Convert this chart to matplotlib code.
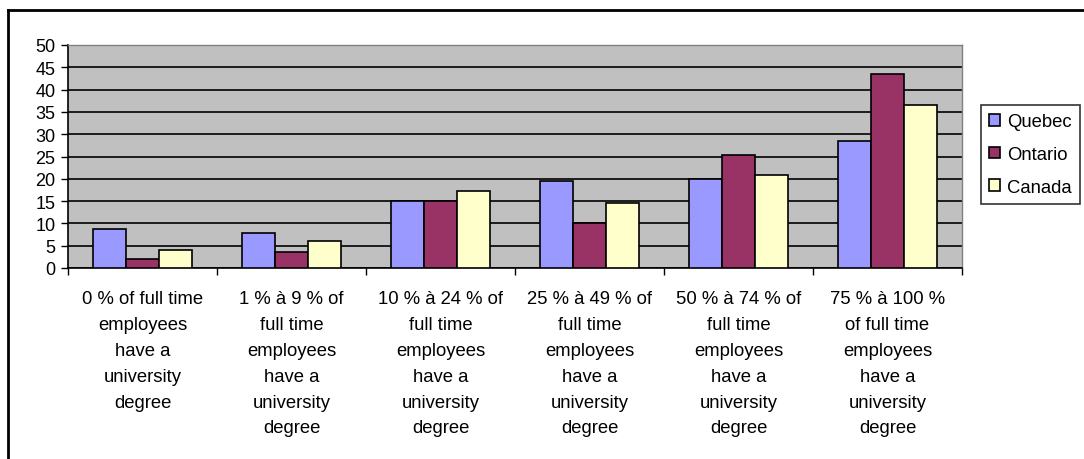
import numpy as np
import matplotlib.pyplot as plt
from matplotlib.lines import Line2D

plt.rcParams['font.family'] = ['Liberation Sans', 'DejaVu Sans']

categories = [
    "0 % of full time employees have a university degree",
    "1 % à 9 % of full time employees have a university degree",
    "10 % à 24 % of full time employees have a university degree",
    "25 % à 49 % of full time employees have a university degree",
    "50 % à 74 % of full time employees have a university degree",
    "75 % à 100 % of full time employees have a university degree",
]
tick_labels = [
    "0 % of full time\nemployees\nhave a\nuniversity\ndegree",
    "1 % à 9 % of\nfull time\nemployees\nhave a\nuniversity\ndegree",
    "10 % à 24 % of\nfull time\nemployees\nhave a\nuniversity\ndegree",
    "25 % à 49 % of\nfull time\nemployees\nhave a\nuniversity\ndegree",
    "50 % à 74 % of\nfull time\nemployees\nhave a\nuniversity\ndegree",
    "75 % à 100 %\nof full time\nemployees\nhave a\nuniversity\ndegree",
]
series_names = ["Quebec", "Ontario", "Canada"]
quebec = [8.7, 7.9, 15.0, 19.4, 20.0, 28.4]
ontario = [2.0, 3.5, 15.0, 10.2, 25.3, 43.5]
canada = [4.0, 6.0, 17.3, 14.6, 20.9, 36.6]
colors = ["#9999FF", "#993366", "#FFFFCC"]

fig = plt.figure(figsize=(10.84, 4.6), dpi=100)
ax = fig.add_axes([68 / 1084, 1 - 269 / 460, 894 / 1084, 223 / 460])
ax.set_facecolor("#C0C0C0")

x = np.arange(len(categories))
w = 0.222
for i, (vals, name) in enumerate(zip([quebec, ontario, canada], series_names)):
    ax.bar(x + (i - 1) * w, vals, width=w, color=colors[i], edgecolor="black",
           linewidth=1.2, label=name, zorder=3)

ax.set_xlim(-0.5, len(categories) - 0.5)
ax.set_ylim(0, 50)
ax.set_yticks(range(0, 51, 5))
ax.yaxis.grid(True, color="black", linewidth=1.2, zorder=1)
ax.set_axisbelow(True)

ax.set_xticks(x)
ax.set_xticklabels(tick_labels, fontsize=13.3, linespacing=1.68, va="top")
ax.set_xticks(np.arange(-0.5, len(categories)), minor=True)
ax.tick_params(axis="x", which="major", length=0, pad=16)
ax.tick_params(axis="x", which="minor", length=5, width=1, direction="out")
ax.tick_params(axis="y", length=5, width=1, direction="out", labelsize=13, pad=4)

for s in ["top", "right"]:
    ax.spines[s].set_color("#808080")
    ax.spines[s].set_linewidth(1)
for s in ["left", "bottom"]:
    ax.spines[s].set_color("black")
    ax.spines[s].set_linewidth(1.2)

leg = fig.legend(loc="upper left", bbox_to_anchor=(981 / 1084, 1 - 106 / 460),
                 frameon=True, fancybox=False, fontsize=13.3, handlelength=0.6,
                 handleheight=0.6, handletextpad=0.35, labelspacing=0.85,
                 borderpad=0.45, borderaxespad=0)
leg.get_frame().set_edgecolor("black")
leg.get_frame().set_linewidth(1.2)

# outer chart border (top and left visible)
fig.add_artist(Line2D([8 / 1084, 1.0], [1 - 11 / 460, 1 - 11 / 460], transform=fig.transFigure,
                      color="black", linewidth=2))
fig.add_artist(Line2D([8 / 1084, 8 / 1084], [1 - 11 / 460, 0], transform=fig.transFigure,
                      color="black", linewidth=2))

fig.savefig("out.png", dpi=100)
